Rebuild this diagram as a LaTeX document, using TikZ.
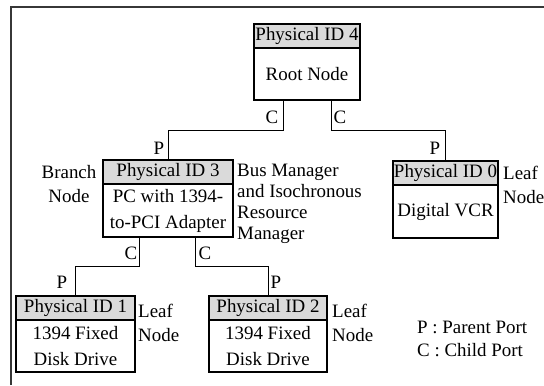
\documentclass[tikz,border=0pt]{standalone}
\usepackage{fontspec}
\setmainfont{Liberation Serif}
\usetikzlibrary{positioning,calc}
\definecolor{hdrgray}{RGB}{218,218,218}
\definecolor{framegray}{RGB}{55,55,55}

\begin{document}
\begin{tikzpicture}[x=1bp,y=-1bp,
  hdr/.style={draw,fill=hdrgray,line width=1.1bp,inner sep=0pt,outer sep=0pt,minimum height=24bp,font=\fontsize{19}{23}\selectfont},
  bdy/.style={draw,fill=white,line width=1.1bp,inner sep=0pt,outer sep=0pt,minimum height=53bp,align=center,font=\fontsize{19}{26}\selectfont},
  lbl/.style={inner sep=0pt,align=left,font=\fontsize{19}{24}\selectfont},
  port/.style={inner sep=0pt,font=\fontsize{19}{21}\selectfont},
  wire/.style={line width=1bp}]
\useasboundingbox (0,0) rectangle (544,385);
\draw[framegray,line width=1.5bp] (11,385) -- (11,7) -- (544,7);
% root
\node[hdr,minimum width=106bp,anchor=north] (id4) at (307,24) {Physical ID 4};
\node[bdy,minimum width=106bp,minimum height=52bp,below=0pt of id4] (root) {Root Node};
% branch
\node[hdr,minimum width=130bp,anchor=north] (id3) at (168,160) {Physical ID 3};
\node[bdy,minimum width=130bp,below=0pt of id3] (bx3) {PC with 1394-\\to-PCI Adapter};
\node[lbl,align=center] (branch) at (69,184) {Branch\\Node};
\node[lbl,anchor=west,font=\fontsize{19}{21}\selectfont] (busmgr) at (237,204) {Bus Manager\\and Isochronous\\Resource\\Manager};
% leaves
\node[hdr,minimum width=105bp,anchor=north] (id0) at (445.5,161) {Physical ID 0};
\node[bdy,minimum width=105bp,below=0pt of id0] (bx0) {Digital VCR};
\node[lbl,anchor=west] (leaf0) at (503,185) {Leaf\\Node};
\node[hdr,minimum width=119bp,anchor=north] (id1) at (75.5,296) {Physical ID 1};
\node[bdy,minimum width=119bp,minimum height=52bp,below=0pt of id1] (bx1) {1394 Fixed\\Disk Drive};
\node[lbl,anchor=west] (leaf1) at (138,323) {Leaf\\Node};
\node[hdr,minimum width=118bp,anchor=north] (id2) at (268,296) {Physical ID 2};
\node[bdy,minimum width=118bp,minimum height=52bp,below=0pt of id2] (bx2) {1394 Fixed\\Disk Drive};
\node[lbl,anchor=west] (leaf2) at (332,323) {Leaf\\Node};
% connectors
\draw[wire] ([xshift=-24bp]root.south) -- ++(0,30) -| (id3.north);
\draw[wire] ([xshift=24bp]root.south) -- ++(0,30) -| (id0.north);
\draw[wire] ([xshift=-29bp]bx3.south) -- ++(0,29) -| (id1.north);
\draw[wire] ([xshift=27bp]bx3.south) -- ++(0,29) -| (id2.north);
% port labels
\node[port] (c4a) at (272,117) {C};
\node[port] (c4b) at (340,117) {C};
\node[port] (p3) at (159,148) {P};
\node[port] (p0) at (435,148) {P};
\node[port] (c3a) at (131,253) {C};
\node[port] (c3b) at (205,253) {C};
\node[port] (p1) at (62,282) {P};
\node[port] (p2) at (276,282) {P};
% legend
\node[lbl,anchor=west,font=\fontsize{19}{23}\selectfont] (legend) at (417,339) {P : Parent Port\\C : Child Port};
\end{tikzpicture}
\end{document}
